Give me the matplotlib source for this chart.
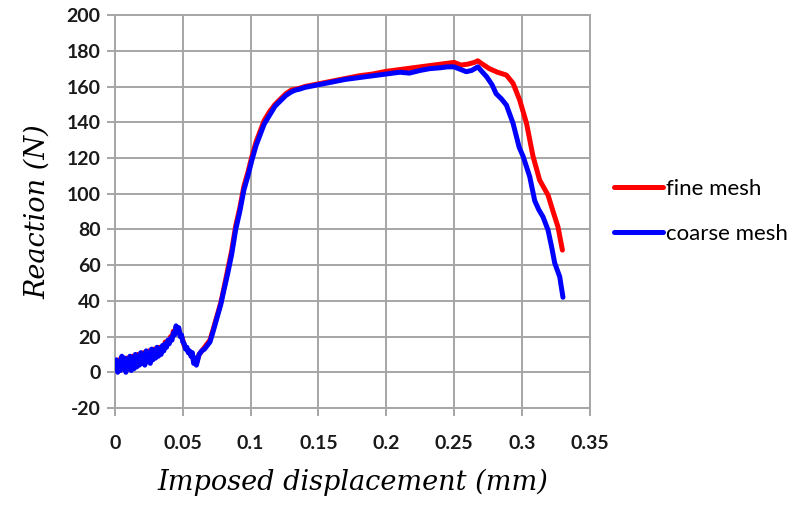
import matplotlib
matplotlib.use("Agg")
import matplotlib.pyplot as plt

plt.rcParams["axes.unicode_minus"] = False

# ---- data ----
coarse_x = [0.000, 0.001, 0.002, 0.003, 0.004, 0.005, 0.006, 0.007, 0.008, 0.009,
            0.010, 0.011, 0.012, 0.013, 0.014, 0.015, 0.016, 0.017, 0.018, 0.019,
            0.020, 0.021, 0.022, 0.023, 0.024, 0.025, 0.026, 0.027, 0.028, 0.029,
            0.030, 0.031, 0.032, 0.033, 0.034, 0.035, 0.036, 0.037, 0.038, 0.039,
            0.040, 0.041, 0.042, 0.043, 0.044, 0.045, 0.046, 0.047, 0.048, 0.049,
            0.050, 0.051, 0.052, 0.053, 0.054, 0.055, 0.056, 0.057, 0.058, 0.059,
            0.060, 0.062, 0.064, 0.066, 0.068, 0.070, 0.072, 0.075, 0.078, 0.080,
            0.083, 0.086, 0.089, 0.092, 0.095, 0.098, 0.101, 0.104, 0.107, 0.110,
            0.114, 0.118, 0.122, 0.126, 0.130, 0.133, 0.136, 0.140, 0.150, 0.160,
            0.170, 0.180, 0.190, 0.200, 0.210, 0.217, 0.225, 0.232, 0.240, 0.245,
            0.250, 0.255, 0.259, 0.263, 0.2675, 0.271, 0.274, 0.278, 0.281, 0.285,
            0.2886, 0.2935, 0.298, 0.301, 0.3058, 0.3095, 0.3125, 0.3156, 0.3193,
            0.322, 0.3242, 0.3279, 0.3303]
coarse_y = [2, 7, 0, 6, 1, 9, 2, 8, 0, 7,
            3, 9, 1, 8, 2, 10, 3, 9, 4, 11,
            5, 10, 4, 12, 6, 11, 5, 13, 7, 12,
            8, 14, 9, 13, 10, 15, 12, 16, 14, 18,
            16, 19, 18, 22, 21, 26, 23, 25, 20, 21,
            17, 16, 13, 14, 11, 12, 9, 11, 5, 8,
            4, 10, 12, 13, 15, 17, 22, 30, 38, 45,
            55, 66, 80, 90, 102, 110, 119, 127, 133, 139,
            144, 149, 152, 155, 157, 158, 158.5, 159.5, 161, 162.5,
            164, 165, 166, 167, 168, 167.5, 169, 170, 170.5, 171,
            171, 169.5, 168.3, 169, 171, 168, 165.5, 161, 156, 153,
            149.6, 139.4, 126, 120.7, 109.5, 96, 91, 87, 79.6,
            70, 61.2, 53.5, 42]

fine_x = [0.000, 0.001, 0.002, 0.003, 0.004, 0.005, 0.006, 0.007, 0.008, 0.009,
          0.010, 0.011, 0.012, 0.013, 0.014, 0.015, 0.016, 0.017, 0.018, 0.019,
          0.020, 0.021, 0.022, 0.023, 0.024, 0.025, 0.026, 0.027, 0.028, 0.029,
          0.030, 0.031, 0.032, 0.033, 0.034, 0.035, 0.036, 0.037, 0.038, 0.039,
          0.040, 0.041, 0.042, 0.043, 0.044, 0.045, 0.046, 0.047, 0.048, 0.049,
          0.050, 0.051, 0.052, 0.053, 0.054, 0.055, 0.056, 0.057, 0.058, 0.059,
          0.060, 0.062, 0.064, 0.066, 0.068, 0.070, 0.072, 0.075, 0.078, 0.080,
          0.083, 0.086, 0.089, 0.092, 0.095, 0.098, 0.101, 0.104, 0.107, 0.110,
          0.114, 0.118, 0.122, 0.126, 0.130, 0.133, 0.136, 0.140, 0.150, 0.160,
          0.170, 0.180, 0.190, 0.200, 0.210, 0.220, 0.230, 0.240, 0.250, 0.255,
          0.260, 0.265, 0.2675, 0.270, 0.276, 0.282, 0.2886, 0.2935, 0.2984,
          0.3034, 0.3082, 0.3131, 0.3193, 0.323, 0.3266, 0.3299]
fine_y = [3, 6, 1, 7, 2, 8, 3, 7, 1, 8,
          4, 8, 2, 9, 3, 9, 4, 10, 5, 10,
          6, 11, 5, 11, 7, 12, 6, 12, 8, 13,
          9, 13, 10, 14, 11, 14, 13, 17, 15, 17,
          17, 20, 19, 23, 22, 25, 24, 24, 21, 20,
          18, 15, 14, 13, 12, 11, 10, 10, 6, 7,
          5, 10, 12, 14, 16, 18, 23, 31, 39, 46,
          57, 68, 82, 92, 104, 112, 121, 129, 135, 141,
          146, 150, 153, 156, 158, 158.5, 159, 160, 161.5, 163,
          164.5, 166, 167, 168.5, 169.5, 170.5, 171.5, 172.5, 173.5, 172,
          172.5, 173.5, 174.4, 173, 170, 168, 166.4, 161.8, 152.4,
          139.5, 121, 107.6, 99.2, 90, 81.5, 68.4]

series_names = ["fine mesh", "coarse mesh"]
series_colors = ["#ff0000", "#0000ff"]

x_ticks = [0, 0.05, 0.1, 0.15, 0.2, 0.25, 0.3, 0.35]
x_tick_labels = ["0", "0.05", "0.1", "0.15", "0.2", "0.25", "0.3", "0.35"]
y_ticks = list(range(-20, 201, 20))

# ---- figure ----
fig = plt.figure(figsize=(8.1, 5.09), dpi=100)
ax = fig.add_axes([0.142, 0.1984, 0.586, 0.772])

grid_c = "#a6a6a6"
ax.plot(fine_x, fine_y, color=series_colors[0], lw=3.6, label=series_names[0],
        solid_joinstyle="round", solid_capstyle="round", zorder=3)
ax.plot(coarse_x, coarse_y, color=series_colors[1], lw=3.6, label=series_names[1],
        solid_joinstyle="round", solid_capstyle="round", zorder=4)

ax.set_xlim(0, 0.35)
ax.set_ylim(-20, 200)
ax.set_xticks(x_ticks)
ax.set_xticklabels(x_tick_labels)
ax.set_yticks(y_ticks)
ax.grid(True, color=grid_c, lw=1.4)
ax.set_axisbelow(True)
for s in ax.spines.values():
    s.set_color(grid_c)
    s.set_linewidth(1.4)

ax.tick_params(axis="x", direction="out", length=5.5, width=1.4, color=grid_c, pad=14)
ax.tick_params(axis="y", direction="out", length=5.5, width=1.4, color=grid_c, pad=5)
for lab in ax.get_xticklabels() + ax.get_yticklabels():
    lab.set_fontfamily("Lato")
    lab.set_fontsize(14)
    lab.set_fontweight("bold")
    lab.set_color("#1a1a1a")

ax.set_xlabel("Imposed displacement (mm)", family="DejaVu Serif", style="italic",
              fontsize=19.5, labelpad=12)
ax.set_ylabel("Reaction (N)", family="DejaVu Serif", style="italic",
              fontsize=19.5, labelpad=11)

leg = fig.legend(loc="center left", bbox_to_anchor=(614 / 810, 1 - 211.5 / 509),
                 frameon=False, borderpad=0, borderaxespad=0,
                 prop=dict(family="Lato", size=16), handlelength=2.2,
                 handletextpad=0.15, labelspacing=1.15)
for line in leg.get_lines():
    line.set_linewidth(3.6)

fig.savefig("out.png", dpi=100)
